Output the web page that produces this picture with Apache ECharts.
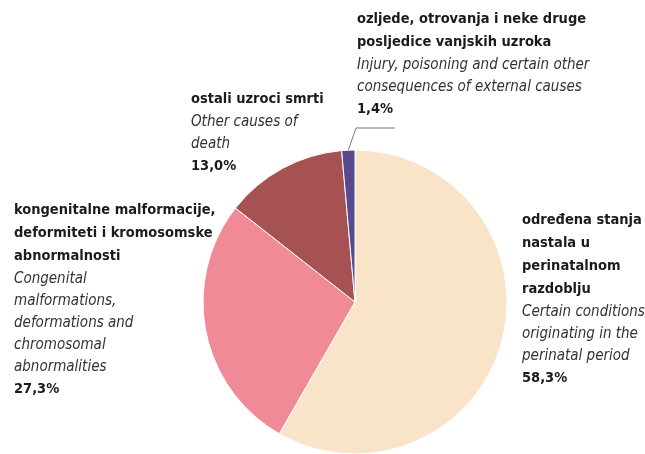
<!DOCTYPE html>
<html>
<head>
<meta charset="utf-8">
<script src="https://cdn.jsdelivr.net/npm/echarts@6/dist/echarts.min.js"></script>
<style>
  html, body { margin: 0; padding: 0; background: #fff; }
  #chart { width: 645px; height: 454px; }
</style>
</head>
<body>
<div id="chart"></div>
<script>
// data, clockwise from 12 o'clock
const namesHr = [
  "određena stanja\nnastala u\nperinatalnom\nrazdoblju",
  "kongenitalne malformacije,\ndeformiteti i kromosomske\nabnormalnosti",
  "ostali uzroci smrti",
  "ozljede, otrovanja i neke druge\nposljedice vanjskih uzroka"
];
const namesEn = [
  "Certain conditions\noriginating in the\nperinatal period",
  "Congenital\nmalformations,\ndeformations and\nchromosomal\nabnormalities",
  "Other causes of\ndeath",
  "Injury, poisoning and certain other\nconsequences of external causes"
];
const values = [58.3, 27.3, 13.0, 1.4];
const colors = ["#f9e3c9", "#f08a97", "#a65253", "#584a8d"];

// label block positions (top-left corner)
const labelPos = [[522, 209], [14, 199], [191, 88], [357, 8]];

const FONT = "'DejaVu Sans Condensed', 'Liberation Sans Narrow', sans-serif";

let chart = echarts.init(document.getElementById("chart"));
let option = {
  animation: false,
  series: [
    {
      type: "pie",
      center: [355, 302],
      radius: 152,
      startAngle: 90,
      clockwise: true,
      silent: true,
      itemStyle: { borderColor: "#fff", borderWidth: 1 },
      labelLine: { show: false },
      label: {
        show: true,
        position: "outside",
        alignTo: "none",
        overflow: "none",
        formatter: (p) =>
          "{b|" + namesHr[p.dataIndex] + "}\n{i|" + namesEn[p.dataIndex] + "}\n{b|" +
          values[p.dataIndex].toFixed(1).replace(".", ",") + "%}",
        rich: {
          b: { fontFamily: FONT, fontSize: 14.5, fontWeight: "bold", color: "#1b1b1b", lineHeight: 23 },
          i: { fontFamily: FONT, fontSize: 15, fontStyle: "italic", color: "#333", lineHeight: 22 }
        }
      },
      labelLayout: (params) => ({
        x: labelPos[params.dataIndex][0],
        y: labelPos[params.dataIndex][1],
        align: "left",
        verticalAlign: "top"
      }),
      data: values.map((v, i) => ({
        name: namesHr[i],
        value: v,
        itemStyle: { color: colors[i] }
      }))
    }
  ],
  graphic: [
    {
      type: "polyline",
      shape: { points: [[348, 151], [356, 128], [395, 128]] },
      style: { stroke: "#777", lineWidth: 1, fill: null }
    }
  ]
};
chart.setOption(option);
window.addEventListener("resize", () => {
  chart.resize();
});
</script>
</body>
</html>
